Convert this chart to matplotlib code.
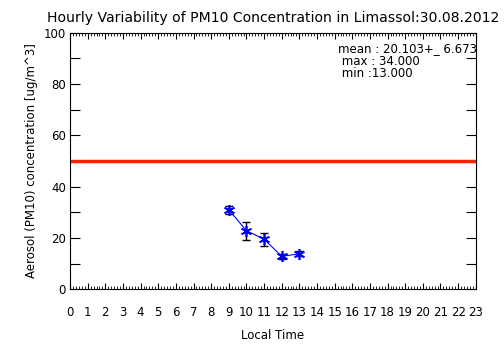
import numpy as np
import matplotlib
matplotlib.use("Agg")
import matplotlib.pyplot as plt
from matplotlib.ticker import MultipleLocator

hours = [9, 10, 11, 12, 13]
pm10 = [31.0, 22.8, 19.5, 12.8, 13.8]
err = [1.5, 3.5, 2.5, 1.0, 1.0]
limit = 50
stats = ["mean : 20.103+_ 6.673", " max : 34.000", " min :13.000"]

fig = plt.figure(figsize=(5.04, 3.61), dpi=100)
ax = fig.add_axes([0.139, 0.199, 0.805, 0.710])

ax.axhline(limit, color="#ff2000", lw=2.5)
ax.errorbar(hours, pm10, yerr=err, fmt="none", ecolor="black", elinewidth=1, capsize=3, capthick=1)
ax.plot(hours, pm10, color="blue", lw=0.8, marker=(6, 2, 0), markersize=8, mew=1.2, mec="blue")

ax.set_xlim(0, 23)
ax.set_ylim(0, 100)
ax.xaxis.set_major_locator(MultipleLocator(1))
ax.xaxis.set_minor_locator(MultipleLocator(1 / 6))
ax.yaxis.set_major_locator(MultipleLocator(20))
ax.yaxis.set_minor_locator(MultipleLocator(10))
ax.tick_params(which="both", direction="in", top=True, right=True, labelsize=8.5)
ax.tick_params(which="major", axis="x", length=4, width=0.8)
ax.tick_params(which="minor", axis="x", length=2.5, width=0.6)
ax.tick_params(which="both", axis="y", length=7, width=0.8)
ax.tick_params(axis="x", pad=12)
ax.tick_params(axis="y", pad=3)
for s in ax.spines.values():
    s.set_linewidth(0.8)

ax.set_xlabel("Local Time", fontsize=8.5, labelpad=7)
ax.set_ylabel("Aerosol (PM10) concentration [ug/m^3]", fontsize=8.5, labelpad=4)
# title is clipped in the original; kept slightly smaller so it fits
ax.set_title("Hourly Variability of PM10 Concentration in Limassol:30.08.2012", fontsize=10.1, pad=8)

for i, s in enumerate(stats):
    ax.text(0.66, 0.965 - i * 0.05, s, transform=ax.transAxes, fontsize=8.5, va="top")

fig.savefig("out.png", dpi=100)
